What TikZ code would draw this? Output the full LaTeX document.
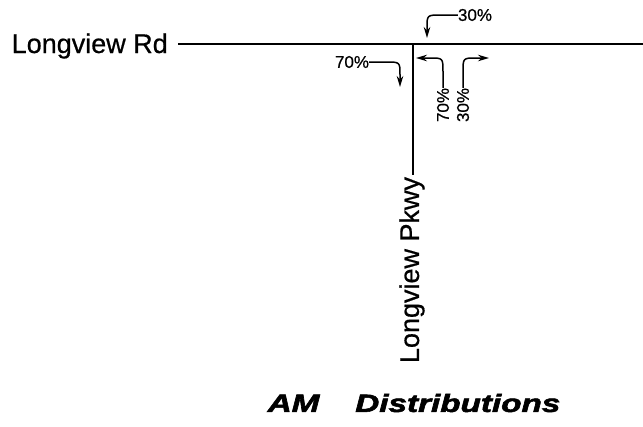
\documentclass[tikz,border=0pt]{standalone}
\usepackage{fontspec}
\setmainfont{Liberation Sans}[FakeBold=0.6]
\newfontfamily\heavyfont{Liberation Sans}[BoldItalicFeatures={FakeBold=2}]
\usetikzlibrary{arrows.meta}

\tikzset{
    road/.style={line width=1.6pt},
    turn/.style={line width=1.5pt, -{Stealth[length=11pt,width=6.5pt]}},
    pct/.style={font=\fontsize{17}{17}\selectfont, inner sep=0pt},
    street/.style={font=\fontsize{27}{27}\selectfont, inner sep=2pt},
}

\begin{document}
\begin{tikzpicture}[x=1pt,y=-1pt]
    \useasboundingbox (0,0) rectangle (643,426);

    % roads
    \coordinate (jct) at (413,44);
    \coordinate (east) at (643,44);
    \node[street, anchor=base east] (rd) at (170,53) {Longview Rd};
    \node[street, rotate=90] (pkwy) at (412,270) {Longview Pkwy};
    \draw[road] (jct -| rd.east) ++(8,0) -- (east);
    \draw[road] (jct) -- (jct |- pkwy.east);

    % turning movements
    \node[pct] (sbR) at (475,15) {30\%};
    \coordinate (sbRtip) at (427,38);
    \draw[turn] (sbR.west) -- (441,15) .. controls (427,15) .. (427,28) -- (sbRtip);

    \node[pct] (ebR) at (352,62) {70\%};
    \coordinate (ebRtip) at (400,87);
    \draw[turn] (ebR.east) -- (386,62) .. controls (400,62) .. (400,75) -- (ebRtip);

    \node[pct, rotate=90] (nbL) at (443,105) {70\%};
    \coordinate (nbLtip) at (416,58);
    \draw[turn] (nbL.east) -- (443,72) .. controls (443,58) .. (430,58) -- (nbLtip);

    \node[pct, rotate=90] (nbR) at (463,105) {30\%};
    \coordinate (nbRtip) at (489,58);
    \draw[turn] (nbR.east) -- (463,72) .. controls (463,58) .. (476,58) -- (nbRtip);

    % caption
    \node[font=\heavyfont\fontsize{25}{25}\selectfont\bfseries\itshape, xscale=1.33, transform shape]
        (title) at (414,403) {AM\hspace{27pt}Distributions};
\end{tikzpicture}
\end{document}
